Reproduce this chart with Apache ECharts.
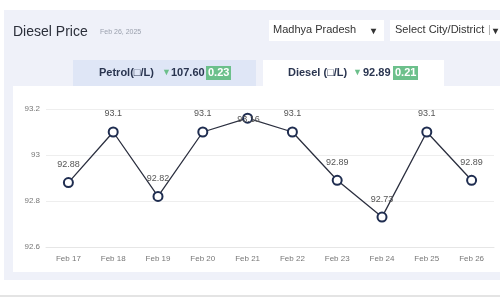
<!DOCTYPE html>
<html><head><meta charset="utf-8">
<script src="https://cdn.jsdelivr.net/npm/echarts@6/dist/echarts.min.js"></script>
<style>html,body{margin:0;padding:0;background:#fff}#c{width:500px;height:300px}</style>
</head><body><div id="c"></div>
<script>
const categories = ['Feb 17','Feb 18','Feb 19','Feb 20','Feb 21','Feb 22','Feb 23','Feb 24','Feb 25','Feb 26'];
const dieselPrices = [92.88, 93.1, 92.82, 93.1, 93.16, 93.1, 92.89, 92.73, 93.1, 92.89];
const yTicks = [92.6, 92.8, 93, 93.2];

const chart = echarts.init(document.getElementById('c'));
const F = 'Arial, "Liberation Sans", sans-serif';
const seriesData = dieselPrices.map((v, i) => i === 4
  ? {value: v, label: {position: 'inside', offset: [1, 1]}}
  : v);
chart.setOption({
  animation: false,
  backgroundColor: '#ffffff',
  graphic: [
    {type:'rect', shape:{x:4,y:10,width:496,height:270}, style:{fill:'#eff1f9'}, z:-10},
    {type:'rect', shape:{x:13,y:86,width:487,height:186}, style:{fill:'#ffffff'}, z:-9},
    {type:'rect', shape:{x:0,y:295,width:500,height:2}, style:{fill:'#e4e4e4'}, z:-9},
    {type:'text', left:13, top:25, style:{text:'Diesel Price', font:'14px '+F, fill:'#2b2f3a'}},
    {type:'text', left:100, top:29, style:{text:'Feb 26, 2025', font:'7px '+F, fill:'#9aa0ad'}},
    {type:'rect', shape:{x:269,y:20,width:115,height:21}, style:{fill:'#ffffff'}},
    {type:'text', left:273, top:24, style:{text:'Madhya Pradesh', font:'11px '+F, fill:'#333'}},
    {type:'text', left:371, top:26, style:{text:'▾', font:'bold 10px '+F, fill:'#333'}},
    {type:'rect', shape:{x:390,y:20,width:110,height:21}, style:{fill:'#ffffff'}},
    {type:'text', left:395, top:24, style:{text:'Select City/District', font:'11px '+F, fill:'#333'}},
    {type:'text', left:488, top:24, style:{text:'|', font:'11px '+F, fill:'#aaa'}},
    {type:'text', left:493, top:26, style:{text:'▾', font:'bold 10px '+F, fill:'#333'}},
    {type:'rect', shape:{x:73,y:60,width:183,height:26}, style:{fill:'#dfe6f6'}},
    {type:'rect', shape:{x:263,y:60,width:181,height:26}, style:{fill:'#ffffff'}},
    {type:'text', left:99, top:67, style:{text:'Petrol(□/L)', font:'bold 11px '+F, fill:'#2a3550'}},
    {type:'text', left:162, top:68, style:{text:'▼', font:'9px '+F, fill:'#6cbf8b'}},
    {type:'text', left:171, top:67, style:{text:'107.60', font:'bold 11px '+F, fill:'#2a3550'}},
    {type:'rect', shape:{x:206,y:66,width:25,height:14}, style:{fill:'#6cc08b'}},
    {type:'text', left:208, top:67, style:{text:'0.23', font:'bold 11px '+F, fill:'#ffffff'}},
    {type:'text', left:288, top:67, style:{text:'Diesel (□/L)', font:'bold 11px '+F, fill:'#2a3550'}},
    {type:'text', left:353, top:68, style:{text:'▼', font:'9px '+F, fill:'#6cbf8b'}},
    {type:'text', left:363, top:67, style:{text:'92.89', font:'bold 11px '+F, fill:'#2a3550'}},
    {type:'rect', shape:{x:393,y:66,width:25,height:14}, style:{fill:'#6cc08b'}},
    {type:'text', left:395, top:67, style:{text:'0.21', font:'bold 11px '+F, fill:'#ffffff'}}
  ],
  grid: {left:46, right:6, top:109, bottom:53},
  xAxis: {
    type:'category', data:categories, boundaryGap:true,
    axisLine:{lineStyle:{color:'#e6e6e6'}}, axisTick:{show:false},
    axisLabel:{color:'#777', fontSize:8, fontFamily:F, margin:8}
  },
  yAxis: {
    type:'value', min:yTicks[0], max:yTicks[yTicks.length-1], interval:0.2,
    axisLine:{show:false}, axisTick:{show:false},
    splitLine:{lineStyle:{color:'#eeeeee'}},
    axisLabel:{color:'#777', fontSize:8, fontFamily:F, margin:6,
      formatter: v => String(parseFloat(v.toFixed(2)))}
  },
  series: [{
    type:'line', data:seriesData,
    symbol:'emptyCircle', symbolSize:9,
    lineStyle:{color:'#2b2f3f', width:1.3},
    itemStyle:{color:'#1f2d50', borderWidth:1.5},
    label:{show:true, position:'top', distance:8, color:'#555', fontSize:9, fontFamily:F}
  }]
});
</script></body></html>
